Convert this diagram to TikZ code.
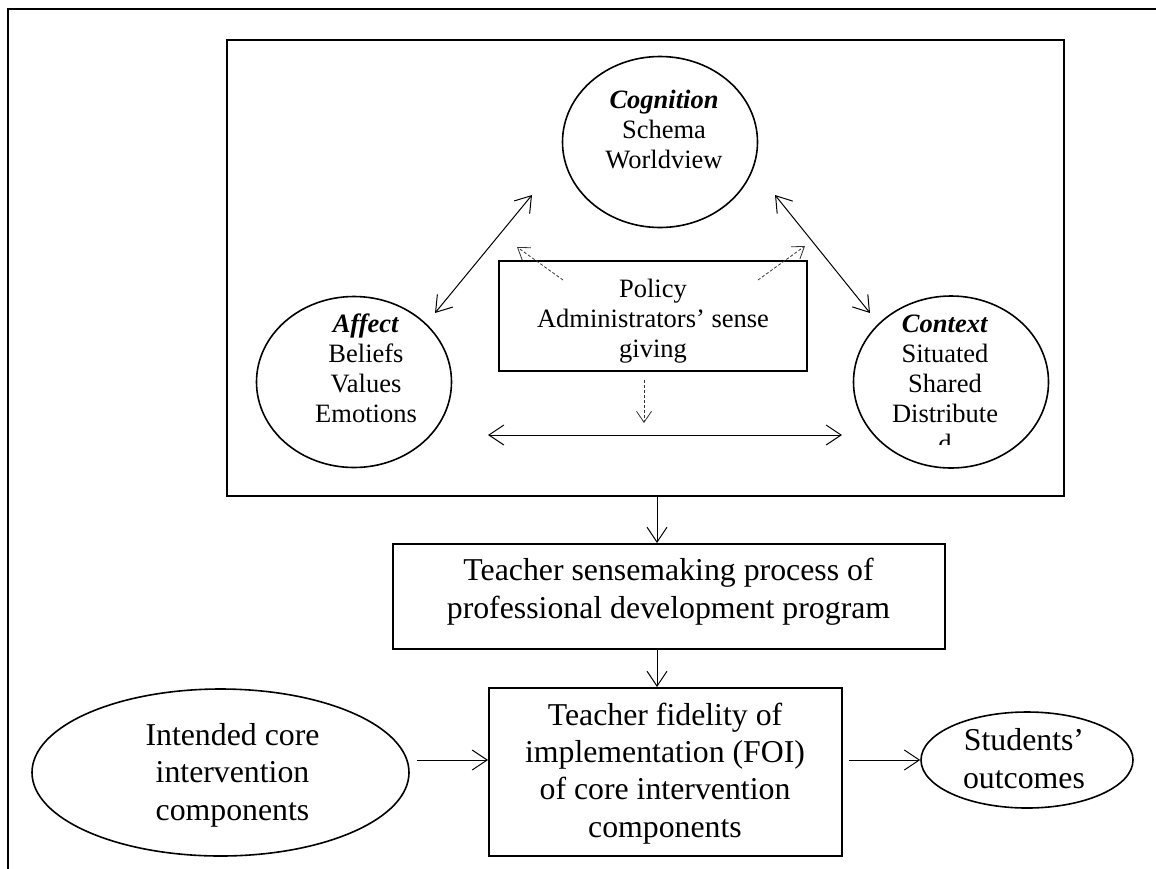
\documentclass[tikz,border=0pt]{standalone}
\usepackage{fontspec}
\setmainfont{Liberation Serif}
\usetikzlibrary{arrows.meta,shapes.geometric}
\tikzset{
  boxnode/.style={draw, line width=1.9pt, inner sep=0pt},
  ellnode/.style={draw, ellipse, line width=1.6pt, inner sep=0pt},
  smalltxt/.style={font=\fontsize{26.5}{30}\selectfont, align=center, anchor=base, inner sep=0pt},
  bigtxt/.style={font=\fontsize{31.8}{37.3}\selectfont, align=center, anchor=base, inner sep=0pt},
  arr/.style={line width=1pt, -{Straight Barb[length=15pt,width=20pt]}},
  dbl/.style={line width=1pt, {Straight Barb[length=15pt,width=20pt]}-{Straight Barb[length=15pt,width=20pt]}},
  dsh/.style={line width=0.8pt, black!80, dash pattern=on 3pt off 2pt, -{Straight Barb[length=11pt,width=15pt]}},
}
\begin{document}
\begin{tikzpicture}[x=1pt,y=-1pt]
\useasboundingbox (0,0) rectangle (1156,868);
\clip (0,0) rectangle (1156,868);
% outer frame
\draw[line width=2pt] (8,9) rectangle (1180,890);
% inner frame
\node[boxnode, minimum width=837pt, minimum height=456pt] (frame) at (645.5,268) {};
% ellipses (text anchored at the baseline of the last line)
\node[ellnode, minimum width=195pt, minimum height=171pt] (cog) at (660,142) {};
\node[smalltxt] (cogt) at (664,168) {\textbf{\textit{Cognition}}\\Schema\\Worldview};
\node[ellnode, minimum width=195pt, minimum height=171pt] (aff) at (354,382) {};
\node[smalltxt] (afft) at (366,422) {\textbf{\textit{Affect}}\\Beliefs\\Values\\Emotions};
\node[ellnode, minimum width=195pt, minimum height=172pt] (con) at (951,382) {};
\begin{scope}
  \clip (850,300) rectangle (1050,444);
  \node[smalltxt] (cont) at (945,452) {\textbf{\textit{Context}}\\Situated\\Shared\\Distribute\\d};
\end{scope}
% policy box
\node[boxnode, minimum width=308pt, minimum height=110pt] (pol) at (653,316) {};
\node[smalltxt] (polt) at (653,357) {Policy\\Administrators’ sense\\giving};
% lower boxes
\node[boxnode, minimum width=552pt, minimum height=105pt] (sense) at (669,596.5) {};
\node[bigtxt] (senset) at (668.5,618) {Teacher sensemaking process of\\professional development program};
\node[boxnode, minimum width=353pt, minimum height=168pt] (foi) at (665.5,772) {};
\node[bigtxt] (foit) at (665,837) {Teacher fidelity of\\implementation (FOI)\\of core intervention\\components};
\node[ellnode, minimum width=377pt, minimum height=167pt] (int) at (220.5,772.5) {};
\node[bigtxt] (intt) at (232.5,820) {Intended core\\intervention\\components};
\node[ellnode, minimum width=212pt, minimum height=96pt] (stu) at (1027,760) {};
\node[bigtxt] (stut) at (1024,788) {Students’\\outcomes};
% connector points
\coordinate (c1) at (657,0);
\coordinate (i1) at (417,760);
\coordinate (f1) at (849,760);
\coordinate (d1a) at (435,313);
\coordinate (d1b) at (532,195);
\coordinate (d2a) at (775,195);
\coordinate (d2b) at (870,313);
\coordinate (d3a) at (488,435);
\coordinate (d3b) at (842,435);
\coordinate (p1) at (563,280);
\coordinate (p1e) at (517,247);
\coordinate (p2) at (758,280);
\coordinate (p2e) at (805,246);
\coordinate (p3) at (644,380);
\coordinate (p3e) at (644,423);
% arrows
\draw[arr] (frame.south -| c1) -- (sense.north -| c1);
\draw[arr] (sense.south -| c1) -- (foi.north -| c1);
\draw[arr] (i1) -- (foi.west |- i1);
\draw[arr] (f1) -- (stu.west);
\draw[dbl] (d1a) -- (d1b);
\draw[dbl] (d2a) -- (d2b);
\draw[dbl] (d3a) -- (d3b);
\draw[dsh] (p1) -- (p1e);
\draw[dsh] (p2) -- (p2e);
\draw[dsh] (p3) -- (p3e);
\end{tikzpicture}
\end{document}
